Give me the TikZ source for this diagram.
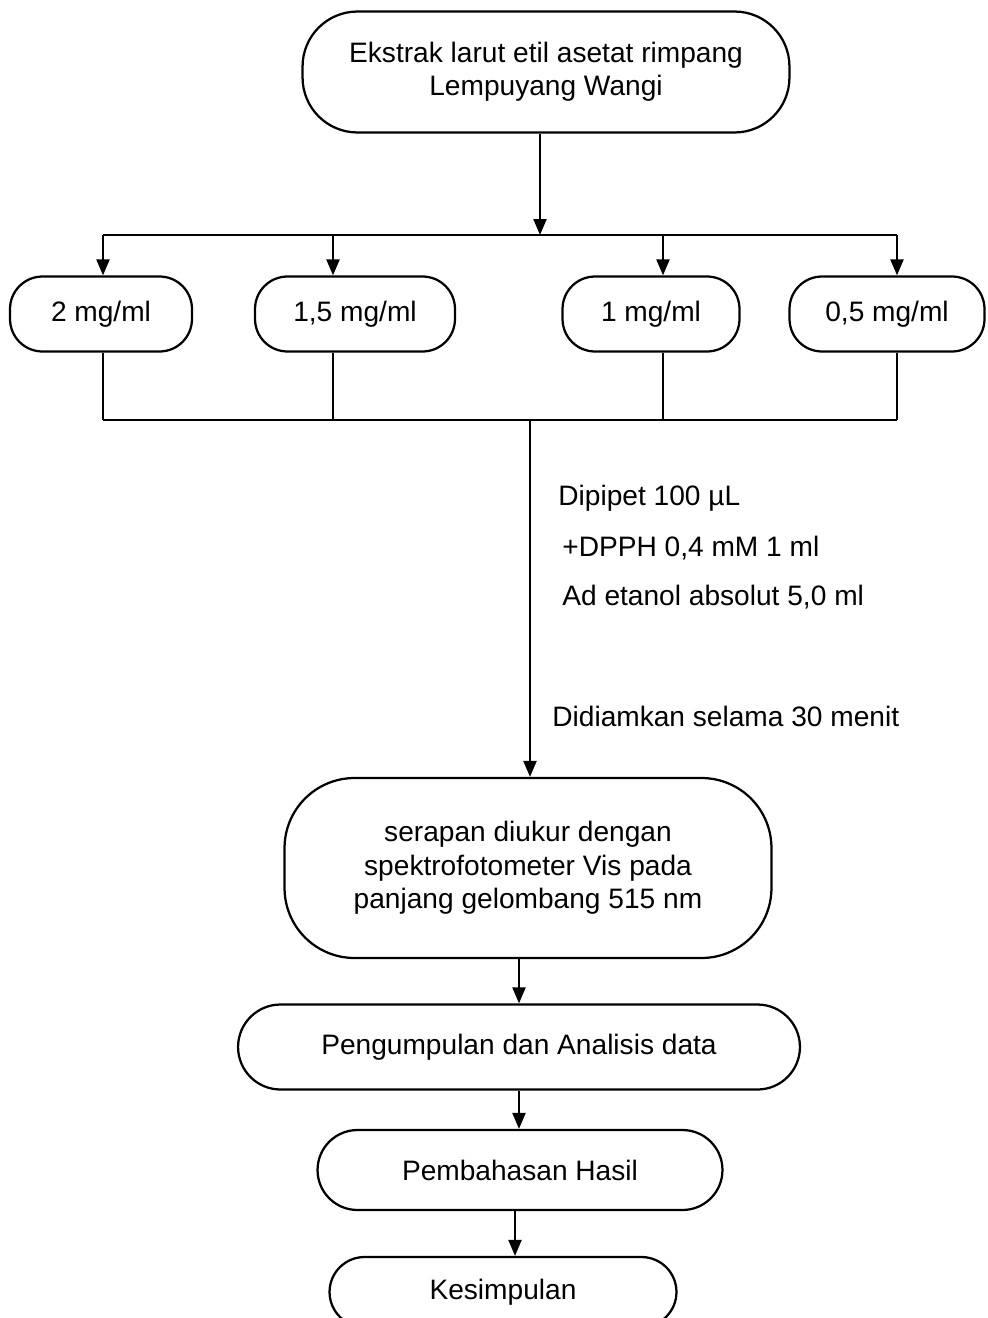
\documentclass[tikz,border=0pt]{standalone}
\usepackage{fontspec}
\setmainfont{Liberation Sans}
\usepackage{tikz}
\usetikzlibrary{arrows.meta}
\tikzset{
	kapsul/.style={draw, line width=0.45mm, align=center, inner sep=0pt, font=\fontsize{16}{19}\selectfont},
	panah/.style={line width=0.45mm, -{Triangle[length=3.2mm,width=2.6mm]}},
	garis/.style={line width=0.45mm},
	ket/.style={anchor=west, inner sep=0pt, font=\fontsize{16}{19}\selectfont}
}

\begin{document}
\begin{tikzpicture}[x=0.02cm, y=-0.02cm]
			\useasboundingbox (0,0) rectangle (987,1318);
			\clip (0,0) rectangle (987,1318);
			%%%%% START %%%%%
			
			\node[kapsul, minimum width=9.74cm, minimum height=2.42cm, rounded corners=1.1cm] (ekstrak) at (546,72) {Ekstrak larut etil asetat rimpang\\Lempuyang Wangi};
			
			\coordinate (busA) at (540,235);
			\coordinate (busB) at (530,420);
			
			\node[kapsul, minimum width=3.64cm, minimum height=1.5cm, rounded corners=0.65cm] (k2) at (101,314) {2 mg/ml};
			\node[kapsul, minimum width=4.0cm, minimum height=1.5cm, rounded corners=0.65cm] (k15) at (355,314) {1,5 mg/ml};
			\node[kapsul, minimum width=3.54cm, minimum height=1.5cm, rounded corners=0.65cm] (k1) at (651,314) {1 mg/ml};
			\node[kapsul, minimum width=3.9cm, minimum height=1.5cm, rounded corners=0.65cm] (k05) at (887,314) {0,5 mg/ml};
			
			\draw[panah] (ekstrak.south -| busA) -- (busA);
			\foreach \n/\x in {k2/103, k15/333, k1/663, k05/897} {
				\coordinate (d\n) at (\x,235);
				\draw[panah] (d\n) -- (d\n |- \n.north);
				\draw[garis] (d\n |- \n.south) -- (d\n |- busB);
			}
			\draw[garis] (dk2) -- (dk05);
			\draw[garis] (dk2 |- busB) -- (dk05 |- busB);
			
			\node[ket] (pipet) at (558,498) {Dipipet 100 µL};
			\node[ket] (dpph) at (562,548) {+DPPH 0,4 mM 1 ml};
			\node[ket] (etanol) at (562,597) {Ad etanol absolut 5,0 ml};
			\node[ket] (diam) at (552,716) {Didiamkan selama 30 menit};
			
			\node[kapsul, minimum width=9.74cm, minimum height=3.6cm, rounded corners=1.4cm] (serapan) at (528,868) {serapan diukur dengan\\spektrofotometer Vis pada\\panjang gelombang 515 nm};
			\draw[panah] (busB) -- (busB |- serapan.north);
			
			\node[kapsul, minimum width=11.24cm, minimum height=1.7cm, rounded corners=0.85cm] (kumpul) at (519,1047) {Pengumpulan dan Analisis data};
			\node[kapsul, minimum width=8.1cm, minimum height=1.6cm, rounded corners=0.8cm] (bahas) at (520,1170) {Pembahasan Hasil};
			\node[kapsul, minimum width=6.94cm, minimum height=1.4cm, rounded corners=0.7cm] (simpul) at (503,1292) {Kesimpulan};
			\coordinate (turun) at (515,1250);
			
			\draw[panah] (kumpul.north |- serapan.south) -- (kumpul.north);
			\draw[panah] (kumpul.south) -- (kumpul.south |- bahas.north);
			\draw[panah] (turun |- bahas.south) -- (turun |- simpul.north);
			
			%%%%% END %%%%%
\end{tikzpicture}
\end{document}
